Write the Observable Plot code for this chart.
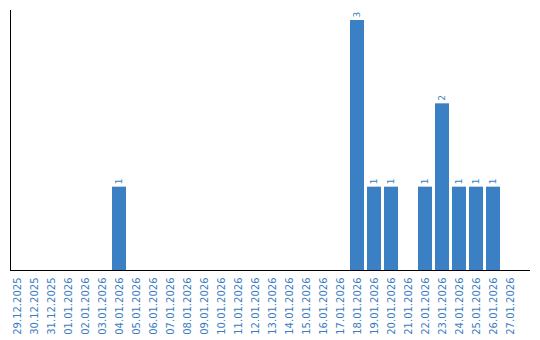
<!DOCTYPE html>
<html>
<head>
<meta charset="utf-8">
<script src="https://cdn.jsdelivr.net/npm/d3@7"></script>
<script src="https://cdn.jsdelivr.net/npm/@observablehq/plot@0.6"></script>
<style>
  html, body { margin: 0; padding: 0; background: #fff; }
  #chart svg { display: block; }
</style>
</head>
<body>
<div id="chart"></div>
<script>
const dates = ["29.12.2025","30.12.2025","31.12.2025","01.01.2026","02.01.2026","03.01.2026","04.01.2026","05.01.2026","06.01.2026","07.01.2026","08.01.2026","09.01.2026","10.01.2026","11.01.2026","12.01.2026","13.01.2026","14.01.2026","15.01.2026","16.01.2026","17.01.2026","18.01.2026","19.01.2026","20.01.2026","21.01.2026","22.01.2026","23.01.2026","24.01.2026","25.01.2026","26.01.2026","27.01.2026"];
const counts = [0,0,0,0,0,0,1,0,0,0,0,0,0,0,0,0,0,0,0,0,3,1,1,0,1,2,1,1,1,0];

const data = dates.map((d, i) => ({date: d, count: counts[i]}));
const nonzero = data.filter(d => d.count > 0);

const blue = "#3b7fc4";
const textBlue = "#3a7dc2";

const chart = Plot.plot({
  width: 540,
  height: 340,
  marginLeft: 10,
  marginRight: 10,
  marginTop: 10,
  marginBottom: 70,
  style: {fontFamily: "'DejaVu Sans', Verdana, sans-serif", fontSize: "10px", background: "#fff"},
  x: {domain: dates, range: [10, 517], paddingInner: 3/17, paddingOuter: 0, label: null},
  y: {domain: [0, 3.12], axis: null},
  marks: [
    Plot.barY(nonzero, {x: "date", y: "count", fill: blue}),
    Plot.text(nonzero, {x: "date", y: "count", text: d => String(d.count), rotate: -90, textAnchor: "start", dy: -3, fill: textBlue, fontSize: 9}),
    Plot.axisX({tickSize: 0, tickPadding: 7, tickRotate: -90, fill: textBlue, fontSize: 10, label: null}),
    Plot.ruleY([0], {stroke: "#000"})
  ]
});

// left axis line, positioned from the chart's own y scale
const ys = chart.scale("y");
d3.select(chart).append("line")
  .attr("x1", 10.5).attr("x2", 10.5)
  .attr("y1", ys.range[1]).attr("y2", ys.range[0])
  .attr("stroke", "#000");

document.getElementById("chart").appendChild(chart);
</script>
</body>
</html>
